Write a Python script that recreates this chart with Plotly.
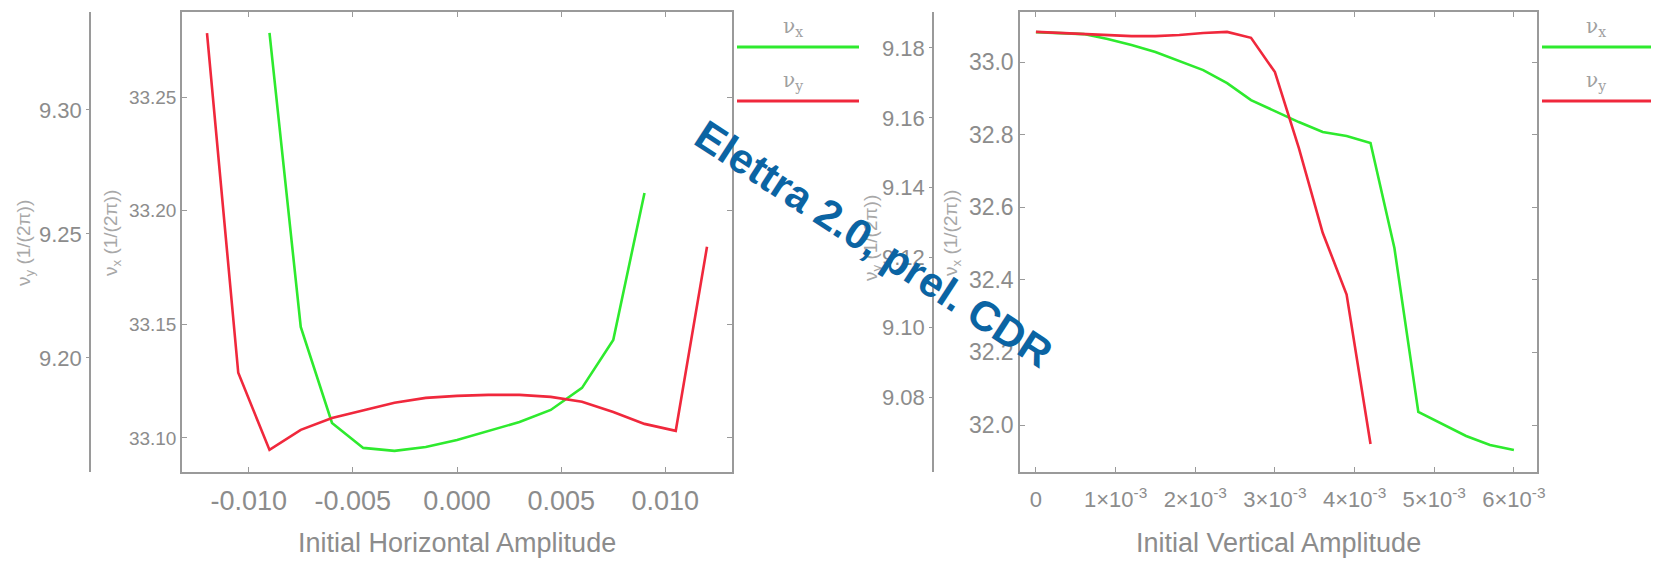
import plotly.graph_objects as go

# ---------------- data ----------------
# Left panel: tune vs initial horizontal amplitude
h_amp_nux = [-0.009, -0.0075, -0.006, -0.0045, -0.003, -0.0015, 0.0, 0.0015, 0.003, 0.0045, 0.006, 0.0075, 0.009]
h_nux = [33.2782, 33.1488, 33.1066, 33.0956, 33.0943, 33.0960, 33.0991, 33.1031, 33.1070, 33.1123, 33.1220, 33.1431, 33.2078]

h_amp_nuy = [-0.012, -0.0105, -0.009, -0.0075, -0.006, -0.0045, -0.003, -0.0015, 0.0, 0.0015, 0.003, 0.0045, 0.006, 0.0075, 0.009, 0.0105, 0.012]
h_nuy = [9.3310, 9.1940, 9.1629, 9.1710, 9.1758, 9.1790, 9.1819, 9.1839, 9.1847, 9.1851, 9.1851, 9.1843, 9.1823, 9.1782, 9.1734, 9.1706, 9.2448]

# Right panel: tune vs initial vertical amplitude
v_amp_nux = [0.0, 0.0003, 0.0006, 0.0009, 0.0012, 0.0015, 0.0018, 0.0021, 0.0024, 0.0027, 0.003, 0.0033, 0.0036, 0.0039, 0.0042, 0.0045, 0.0048, 0.0051, 0.0054, 0.0057, 0.006]
v_nux = [33.0826, 33.0799, 33.0771, 33.0634, 33.0468, 33.0275, 33.0028, 32.9780, 32.9421, 32.8953, 32.8650, 32.8347, 32.8072, 32.7961, 32.7769, 32.4876, 32.0358, 32.0028, 31.9697, 31.9449, 31.9311]

v_amp_nuy = [0.0, 0.0003, 0.0006, 0.0009, 0.0012, 0.0015, 0.0018, 0.0021, 0.0024, 0.0027, 0.003, 0.0033, 0.0036, 0.0039, 0.0042]
v_nuy = [9.1846, 9.1843, 9.1840, 9.1837, 9.1834, 9.1834, 9.1837, 9.1843, 9.1846, 9.1829, 9.1731, 9.1514, 9.1271, 9.1094, 9.0666]

# tick values / labels
left_x_ticks = [-0.010, -0.005, 0.0, 0.005, 0.010]
left_x_labels = ["-0.010", "-0.005", "0.000", "0.005", "0.010"]
left_nux_ticks = [33.10, 33.15, 33.20, 33.25]
left_nuy_ticks = [9.20, 9.25, 9.30]
right_x_ticks = [0.0, 0.001, 0.002, 0.003, 0.004, 0.005, 0.006]
right_x_labels = ["0", "1×10<sup>-3</sup>", "2×10<sup>-3</sup>", "3×10<sup>-3</sup>",
                  "4×10<sup>-3</sup>", "5×10<sup>-3</sup>", "6×10<sup>-3</sup>"]
right_nux_ticks = [32.0, 32.2, 32.4, 32.6, 32.8, 33.0]
right_nuy_ticks = [9.08, 9.10, 9.12, 9.14, 9.16, 9.18]

series_names = ["ν<sub>x</sub>", "ν<sub>y</sub>"]
x_titles = ["Initial Horizontal Amplitude", "Initial Vertical Amplitude"]
y_title_x = "ν<sub>x</sub> (1/(2π))"
y_title_y = "ν<sub>y</sub> (1/(2π))"
watermark = "Elettra 2.0, prel. CDR"

# ---------------- styling ----------------
W, H = 1659, 562
GREEN = "#2eea2e"
RED = "#f0283c"
AX = "#9a9a9a"
TXT = "#8c8c8c"
FONT = "Liberation Sans, Arial, sans-serif"

def px(x):
    return x / W

def py(y):
    return 1 - y / H

ydom = [py(472), py(12)]
left_dom = [px(182), px(732)]
right_dom = [px(1020), px(1537)]

fig = go.Figure()
fig.add_trace(go.Scatter(x=h_amp_nux, y=h_nux, mode="lines", line=dict(color=GREEN, width=2.6),
                         xaxis="x", yaxis="y", name="νx", showlegend=False))
fig.add_trace(go.Scatter(x=h_amp_nuy, y=h_nuy, mode="lines", line=dict(color=RED, width=2.6),
                         xaxis="x", yaxis="y2", name="νy", showlegend=False))
fig.add_trace(go.Scatter(x=v_amp_nux, y=v_nux, mode="lines", line=dict(color=GREEN, width=2.6),
                         xaxis="x2", yaxis="y3", name="νx", showlegend=False))
fig.add_trace(go.Scatter(x=v_amp_nuy, y=v_nuy, mode="lines", line=dict(color=RED, width=2.6),
                         xaxis="x2", yaxis="y4", name="νy", showlegend=False))

frame = dict(showline=True, linecolor=AX, linewidth=1.5, mirror="ticks", showgrid=False,
             zeroline=False, ticks="inside", ticklen=5, tickcolor=AX, automargin=False)

fig.update_layout(
    width=W, height=H, margin=dict(l=0, r=0, t=0, b=0),
    paper_bgcolor="white", plot_bgcolor="white", showlegend=False,
    font=dict(family=FONT, color=TXT),
    xaxis=dict(frame, domain=left_dom, anchor="y", range=[-0.0132, 0.0132],
               tickvals=left_x_ticks, ticktext=left_x_labels,
               tickfont=dict(size=27, color=TXT), ticklabelstandoff=4),
    yaxis=dict(frame, domain=ydom, anchor="x", range=[33.085, 33.2874],
               tickvals=left_nux_ticks, tickformat=".2f",
               tickfont=dict(size=19, color=TXT), ticklabelstandoff=0),
    yaxis2=dict(overlaying="y", anchor="free", position=px(90), side="left",
                range=[9.154, 9.3395], showline=True, linecolor=AX, linewidth=1.5,
                showgrid=False, zeroline=False, ticks="outside", ticklen=3, tickcolor=AX,
                tickvals=left_nuy_ticks, tickformat=".2f", automargin=False,
                tickfont=dict(size=22, color=TXT)),
    xaxis2=dict(frame, domain=right_dom, anchor="y3", range=[-0.0002, 0.00629],
                tickvals=right_x_ticks, ticktext=right_x_labels,
                tickfont=dict(size=22, color=TXT), ticklabelstandoff=7),
    yaxis3=dict(frame, domain=ydom, anchor="x2", range=[31.8705, 33.138],
                tickvals=right_nux_ticks, tickformat=".1f",
                tickfont=dict(size=23, color=TXT), ticklabelstandoff=0),
    yaxis4=dict(overlaying="y3", anchor="free", position=px(933), side="left",
                range=[9.0586, 9.1903], showline=True, linecolor=AX, linewidth=1.5,
                showgrid=False, zeroline=False, ticks="outside", ticklen=3, tickcolor=AX,
                tickvals=right_nuy_ticks, tickformat=".2f", automargin=False,
                tickfont=dict(size=22, color=TXT)),
)

# legends (label above line), drawn as shapes + annotations
legend_specs = [
    (737, 859, 793),
    (1542, 1651, 1596),
]
for x0, x1, xl in legend_specs:
    for name, color, yline, ylab in [(series_names[0], GREEN, 47, 27), (series_names[1], RED, 101, 81)]:
        fig.add_shape(type="line", xref="paper", yref="paper", x0=px(x0), x1=px(x1),
                      y0=py(yline), y1=py(yline), line=dict(color=color, width=2.8))
        fig.add_annotation(xref="paper", yref="paper", x=px(xl), y=py(ylab), text=name,
                           showarrow=False, xanchor="center", yanchor="middle",
                           font=dict(family="DejaVu Serif, serif", size=20, color="#a0a0a0"))

# y-axis titles (rotated)
for xt, yt, txt in [(25, 243, y_title_y), (112, 233, y_title_x),
                    (872, 238, y_title_y), (952, 233, y_title_x)]:
    fig.add_annotation(xref="paper", yref="paper", x=px(xt), y=py(yt), text=txt,
                       textangle=-90, showarrow=False, xanchor="center", yanchor="middle",
                       font=dict(size=19, color="#a8a8a8"))

# x-axis titles
for xc, txt in [(457, x_titles[0]), (1278, x_titles[1])]:
    fig.add_annotation(xref="paper", yref="paper", x=px(xc), y=py(543), text=txt,
                       showarrow=False, xanchor="center", yanchor="middle",
                       font=dict(size=27, color=TXT))

# watermark
fig.add_annotation(xref="paper", yref="paper", x=px(873), y=py(244), text=watermark,
                   textangle=33, showarrow=False, xanchor="center", yanchor="middle",
                   font=dict(family="Liberation Sans, Arial, sans-serif", size=42, color="#0b64a3",
                             weight="bold"))

fig.write_html("out.html", config={"displayModeBar": False},
               post_script="document.body.style.margin='0';document.body.style.overflow='hidden';")
